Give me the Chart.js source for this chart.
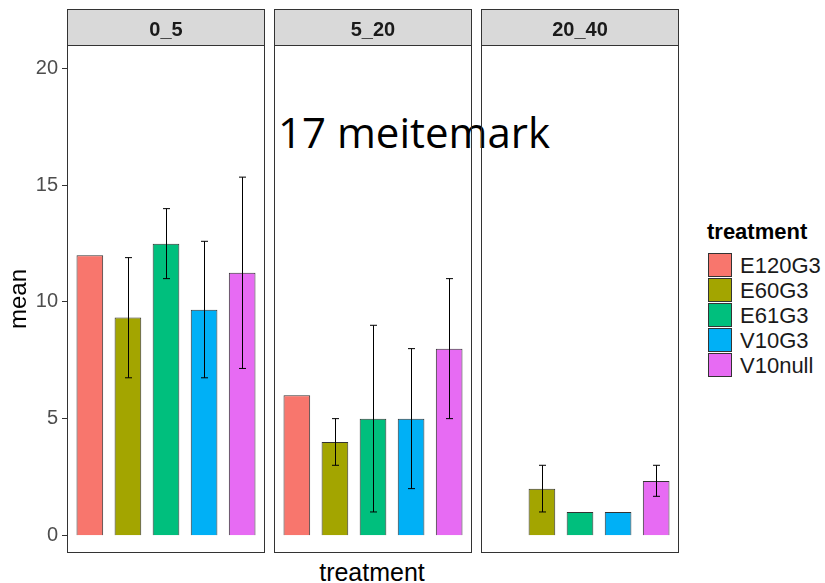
<!DOCTYPE html>
<html>
<head>
<meta charset="utf-8">
<script src="https://cdn.jsdelivr.net/npm/chart.js@4.4.1/dist/chart.umd.min.js"></script>
<style>
  body { margin: 0; background: #fff; width: 825px; height: 583px; position: relative; overflow: hidden; font-family: "Liberation Sans", Arial, sans-serif; }
  canvas, .abs { position: absolute; }
  .panel { position: absolute; box-sizing: border-box; border: 1px solid #333; pointer-events: none; }
  .strip { position: absolute; left: 0; top: 0; right: 0; height: 35px; background: #d9d9d9; border-bottom: 1px solid #333; }
  .striptxt { position: absolute; left: 0; right: 0; top: 0; text-align: center; font-weight: bold; font-size: 20px; line-height: 38px; color: #1a1a1a; }
  .key { position: absolute; width: 22px; height: 22px; border: 1px solid #333; }
  .lab { position: absolute; font-size: 22px; line-height: 24px; color: #1a1a1a; }
</style>
</head>
<body>
<div class="abs" style="left:278px;top:111px;font-family:'Open Sans';font-size:42px;line-height:42px;color:#000;white-space:nowrap;">17 meitemark</div>
<canvas id="yaxis"></canvas>
<canvas id="c0"></canvas>
<canvas id="c1"></canvas>
<canvas id="c2"></canvas>
<div id="frames"></div>
<div class="abs" style="left:-32px;top:284px;width:100px;height:30px;line-height:30px;text-align:center;font-size:24px;color:#000;transform:rotate(-90deg);">mean</div>
<div class="abs" style="left:272px;top:560px;width:200px;text-align:center;font-size:25px;line-height:25px;color:#000;">treatment</div>
<div id="legend"></div>

<script>
document.addEventListener('DOMContentLoaded', ()=> {
    const categories = ["E120G3", "E60G3", "E61G3", "V10G3", "V10null"];
    const barColors = ["#F8766D", "#A3A500", "#00BF7D", "#00B0F6", "#E76BF3"];
    const depths = ["0_5", "5_20", "20_40"];

    const mean_0_5  = [12, 9.33, 12.5, 9.67, 11.25];
    const lower_0_5 = [null, 6.75, 11, 6.75, 7.15];
    const upper_0_5 = [null, 11.9, 14, 12.6, 15.35];

    const mean_5_20  = [6, 4, 5, 5, 8];
    const lower_5_20 = [null, 3, 1, 2, 5];
    const upper_5_20 = [null, 5, 9, 8, 11];

    const mean_20_40  = [null, 2, 1, 1, 2.33];
    const lower_20_40 = [null, 1, null, null, 1.67];
    const upper_20_40 = [null, 3, null, null, 3];

    const yTicks = [0, 5, 10, 15, 20];

    const means = [mean_0_5, mean_5_20, mean_20_40];
    const lowers = [lower_0_5, lower_5_20, lower_20_40];
    const uppers = [upper_0_5, upper_5_20, upper_20_40];

    Chart.defaults.font.family = "'Liberation Sans', Arial, sans-serif";
    Chart.defaults.animation = false;

    const panelLeft = [67, 274, 481];
    const panelWidth = 198;
    const plotTop = 46, plotHeight = 506;
    const yMin = -0.716, yMax = 20.97;
    // ggplot-style 0.6 unit expansion on each side of the discrete axis
    const unit = panelWidth / (categories.length - 1 + 1.2);
    const sidePad = 0.6 * unit;

    const sizeCanvas = (canvas, left, width) => {
        canvas.width = width;
        canvas.height = plotHeight;
        canvas.style.left = left + 'px';
        canvas.style.top = plotTop + 'px';
        canvas.style.width = width + 'px';
        canvas.style.height = plotHeight + 'px';
    };

    // error bars drawn with the chart's own scales
    const errorBars = {
        id: 'errorBars',
        afterDatasetsDraw(chart, args, opts) {
            const ctx = chart.ctx;
            const meta = chart.getDatasetMeta(0);
            const ys = chart.scales.y;
            ctx.save();
            ctx.strokeStyle = '#000';
            ctx.lineWidth = 1;
            meta.data.forEach((bar, j) => {
                const i = opts.index[j];
                if (opts.lo[i] == null) return;
                const x = Math.round(bar.x) + 0.5;
                const y1 = ys.getPixelForValue(opts.lo[i]);
                const y2 = ys.getPixelForValue(opts.hi[i]);
                ctx.beginPath();
                ctx.moveTo(x, y1); ctx.lineTo(x, y2);
                ctx.moveTo(x - 3.5, y1); ctx.lineTo(x + 3.5, y1);
                ctx.moveTo(x - 3.5, y2); ctx.lineTo(x + 3.5, y2);
                ctx.stroke();
            });
            ctx.restore();
        }
    };

    // shared y axis on the left
    const yCanvas = document.querySelector('#yaxis');
    sizeCanvas(yCanvas, 0, panelLeft[0] + 1);
    new Chart(yCanvas, {
        type: 'bar',
        data: {labels: categories, datasets: []},
        options: {
            responsive: false,
            devicePixelRatio: 1,
            layout: {padding: 0},
            plugins: {legend: {display: false}, tooltip: {enabled: false}},
            scales: {
                x: {display: false},
                y: {
                    min: yMin,
                    max: yMax,
                    afterBuildTicks: scale => { scale.ticks = yTicks.map(v => ({value: v})); },
                    afterFit: scale => {
                        scale.width = panelLeft[0];
                        scale.paddingTop = 0;
                        scale.paddingBottom = 0;
                    },
                    border: {display: false},
                    grid: {drawOnChartArea: false, drawTicks: true, tickLength: 5, color: '#333', tickColor: '#333'},
                    ticks: {color: '#4d4d4d', font: {size: 20}, padding: 4}
                }
            }
        }
    });

    const frames = document.querySelector('#frames');

    depths.forEach((depth, p) => {
        const canvas = document.querySelector('#c' + p);
        sizeCanvas(canvas, panelLeft[p], panelWidth);

        const idx = [];
        means[p].forEach((v, i) => { if (v != null) idx.push(i); });

        new Chart(canvas, {
            type: 'bar',
            data: {
                labels: categories,
                datasets: [{
                    data: idx.map(i => ({x: categories[i], y: means[p][i]})),
                    backgroundColor: idx.map(i => barColors[i]),
                    borderColor: '#333',
                    borderWidth: 1,
                    barPercentage: 0.7,
                    categoryPercentage: 1,
                    clip: false
                }]
            },
            options: {
                responsive: false,
                devicePixelRatio: 1,
                layout: {padding: {left: sidePad, right: sidePad, top: 0, bottom: 0}},
                plugins: {
                    legend: {display: false},
                    tooltip: {enabled: false},
                    errorBars: {lo: lowers[p], hi: uppers[p], index: idx}
                },
                scales: {
                    x: {display: false, offset: false, grid: {offset: false}},
                    y: {display: false, min: yMin, max: yMax}
                }
            },
            plugins: [errorBars]
        });

        const frame = document.createElement('div');
        frame.className = 'panel';
        frame.style.left = panelLeft[p] + 'px';
        frame.style.top = '9px';
        frame.style.width = panelWidth + 'px';
        frame.style.height = '544px';
        frame.innerHTML = `<div class="strip"><div class="striptxt">${depth}</div></div>`;
        frames.appendChild(frame);
    });

    // legend
    const legend = document.querySelector('#legend');
    let html = `<div class="abs" style="left:707px;top:220px;font-size:22px;line-height:24px;font-weight:bold;color:#000;">treatment</div>`;
    categories.forEach((c, i) => {
        const top = 253 + i * 25;
        html += `<div class="key" style="left:708px;top:${top}px;background:${barColors[i]};"></div>`;
        html += `<div class="lab" style="left:740px;top:${top + 1}px;">${c}</div>`;
    });
    legend.innerHTML = html;
});
</script>
</body>
</html>
